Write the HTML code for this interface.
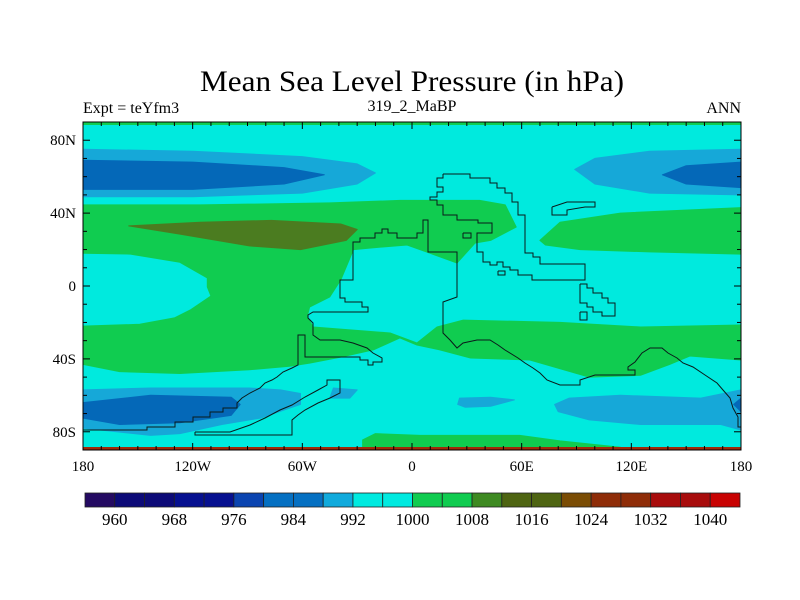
<!DOCTYPE html>
<html><head><meta charset="utf-8"><style>
html,body{margin:0;padding:0;background:#fff;}
svg{display:block;font-family:"Liberation Serif",serif;}
</style></head><body>
<svg id="chart" width="800" height="600" viewBox="0 0 800 600">
<text x="412" y="91" font-size="30" text-anchor="middle" textLength="424" lengthAdjust="spacingAndGlyphs">Mean Sea Level Pressure (in hPa)</text>
<text x="83" y="113" font-size="16">Expt = teYfm3</text>
<text x="412" y="111" font-size="16" text-anchor="middle">319_2_MaBP</text>
<text x="741" y="113" font-size="16" text-anchor="end">ANN</text>
<clipPath id="plotclip"><rect x="83" y="122" width="658" height="328"/></clipPath>
<g id="plot" clip-path="url(#plotclip)"></g>
<g id="coast" clip-path="url(#plotclip)"></g>
<g id="axes"></g>
<g id="cbar"></g>
</svg>
<script>
// ---- data ----
const cbLevels = [960,964,968,972,976,980,984,988,992,996,1000,1004,1008,1012,1016,1020,1024,1028,1032,1036,1040];
const cbColors = ["#240a62","#0c0a78","#0c0a78","#061090","#061090","#0a44b0","#0570c2","#0570c2","#10aadc","#00eae0","#00eae0","#10cc50","#10cc50","#3e8a22","#4e6412","#4e6412","#7a4c04","#8e2c08","#8e2c08","#a80c0c","#a80c0c","#c80202"];
const cbLabels = [960,968,976,984,992,1000,1008,1016,1024,1032,1040];
const lonTicks = [-180,-120,-60,0,60,120,180];
const lonLabels = ["180","120W","60W","0","60E","120E","180"];
const latTicks = [80,40,0,-40,-80];
const latLabels = ["80N","40N","0","40S","80S"];
// contour polygons, [lon,lat]
const greenMain = [[-180,44.5],[-116,44.5],[-45,45.6],[-6.6,47],[37,47],[51,44.5],[57,32.4],[43,25],[34.5,23.6],[24.6,12.6],[9.8,18],[-2.7,22.5],[-21,21],[-32,20],[-39,3.3],[-45,-6],[-56,-11.5],[-57.4,-17],[-54,-22.5],[-12,-25.8],[2.7,-31.3],[13.7,-22.5],[28,-18.7],[81,-20],[125,-22.5],[180,-21.4],[180,-40.6],[152,-38.4],[141,-43],[125,-49],[97,-50],[64.5,-40.6],[32,-39.5],[15,-35],[2.7,-32.4],[-6.6,-28.5],[-21,-35],[-39,-39],[-56,-42.3],[-67,-44],[-89,-46],[-127,-48],[-160,-47],[-180,-43],[-180,-22],[-149,-21],[-130,-17.5],[-121,-13],[-110,-5.5],[-112,-0.5],[-112,4.4],[-127,13],[-154,17.5],[-180,18]];
const greenAsia = [[70,25],[81,35],[114,40],[180,43],[180,17.5],[130,18.7],[92,20],[73,22.5]];
const greenAntarctic = [[-27,-84.5],[-20,-81],[4.4,-82],[29,-82],[59,-82],[81,-85],[114,-88.5],[-27,-88.5]];
const olive = [[-155,33],[-116,35],[-77,36],[-39,34],[-30,31],[-36,25],[-61,20],[-89,22],[-127,28.5]];
const lightNW = [[-180,75],[-120,74],[-60,71],[-30,67],[-20,62],[-30,56],[-60,51],[-120,49],[-180,49]];
const darkNW = [[-180,69],[-120,68],[-70,65],[-48,61],[-70,56],[-120,53],[-180,53]];
const lightNE = [[180,75],[130,74],[100,70],[89,64],[100,56],[130,51],[180,50]];
const darkNE = [[180,68],[150,66],[137,61],[150,56],[180,54]];
const lightSW = [[-180,-57],[-143,-56],[-89,-56],[-72,-57],[-61,-59],[-61,-65],[-83,-72.5],[-104,-76],[-127,-81],[-143,-82],[-180,-78]];
const darkSW = [[-180,-64],[-143,-60],[-99,-61],[-94,-65],[-99,-71],[-127,-75],[-160,-76],[-180,-72.5]];
const lightDrake = [[-43,-56],[-30,-57],[-34,-61.5],[-45,-61.5]];
const lightSE = [[78,-65],[86,-61.5],[114,-60],[158,-61.5],[180,-57],[180,-79],[169,-76],[125,-76],[97,-73.5],[80,-69]];
const darkSE = [[180,-61.5],[176,-65],[180,-69]];
const lightAtl = [[26,-61.5],[43,-61],[56,-62.5],[43,-66],[29,-66.5],[25,-65]];
// basemap outlines (map pixel grid)
const coastA = [[443,174],[470,174],[470,178],[490,178],[490,183],[497,183],[497,188],[505,188],[505,193],[512,193],[512,202],[518,202],[518,215],[525,215],[525,253],[533,253],[533,257],[540,257],[540,264],[585,264],[585,280],[532,280],[532,275],[518,275],[518,270],[510,270],[510,267],[503,267],[503,262],[497,262],[497,265],[490,265],[490,262],[483,262],[483,252],[477,252],[477,233],[492,233],[492,223],[478,223],[478,220],[457,220],[457,215],[443,215],[443,205],[437,205],[437,200],[430,200],[430,197],[437,197],[437,192],[443,192],[443,187],[437,187],[437,178],[443,178],[443,174]];
const coastB = [[741,427],[738,427],[738,417],[733,408],[730,398],[723,390],[717,383],[705,375],[693,367],[683,363],[677,358],[668,353],[662,348],[650,348],[642,353],[635,362],[628,367],[628,370],[635,370],[635,375],[595,375],[580,380],[580,385],[560,385],[547,380],[540,373],[533,368],[525,363],[518,358],[505,350],[498,345],[490,340],[477,340],[463,343],[457,348],[450,340],[448,338],[443,333],[443,302],[457,297],[457,252],[428,252],[428,220],[423,220],[423,233],[417,233],[417,238],[397,238],[397,233],[388,233],[388,229],[382,229],[382,233],[375,233],[375,238],[360,238],[360,242],[353,242],[353,280],[340,280],[340,298],[345,298],[345,302],[362,302],[362,307],[368,307],[368,312],[313,312],[308,315],[308,318],[313,323],[313,335],[320,340],[340,340],[353,343],[367,348],[373,353],[382,358],[382,362],[373,362],[373,365],[368,365],[368,360],[360,360],[360,357],[305,357],[305,335],[298,335],[298,365],[292,368],[283,372],[277,377],[272,380],[265,383],[260,388],[250,393],[242,398],[237,403],[237,408],[223,408],[223,412],[210,412],[210,417],[193,417],[193,422],[175,422],[175,427],[147,427],[147,430],[83,430],[83,427]];
const coastC = [[195,432],[230,432],[250,425],[265,418],[280,410],[292,405],[305,397],[318,390],[327,385],[327,380],[340,380],[340,393],[330,398],[318,403],[305,410],[298,415],[292,420],[292,435],[195,435],[195,432]];
const coastD = [[552,207],[567,202],[595,202],[595,207],[585,207],[567,210],[567,215],[552,215],[552,207]];
const coastE = [[580,284],[587,284],[587,288],[593,288],[593,293],[602,293],[602,298],[608,298],[608,303],[615,303],[615,316],[602,316],[602,312],[593,312],[593,307],[587,307],[587,303],[580,303],[580,284]];
const coastF = [[580,312],[587,312],[587,320],[580,320],[580,312]];
const coastG = [[463,233],[471,233],[471,238],[463,238],[463,233]];
const coastH = [[498,271],[505,271],[505,275],[498,275],[498,271]];

// ---- axes ----
const X0=83,X1=741,Y0=122,Y1=450;
const xS = lon => X0 + (lon+180)/360*(X1-X0);
const yS = lat => Y0 + (90-lat)/180*(Y1-Y0);
const NS="http://www.w3.org/2000/svg";
function mk(tag, attrs, parent){const e=document.createElementNS(NS,tag);for(const k in attrs)e.setAttribute(k,attrs[k]);parent.appendChild(e);return e;}
const plot=document.getElementById('plot'), coast=document.getElementById('coast'), axes=document.getElementById('axes'), cbar=document.getElementById('cbar');

const bg=mk('rect',{x:X0,y:Y0,width:X1-X0,height:Y1-Y0,fill:'#00eade'},plot);


function poly(pts,fill,name){
  const p=mk('polygon',{points:pts.map(q=>xS(q[0]).toFixed(1)+','+yS(q[1]).toFixed(1)).join(' '),fill:fill,stroke:fill,'stroke-width':1,'stroke-linejoin':'round'},plot);
  
  
}
const G="#10cc50",OL="#4b7c20",LB="#16a8d8",DB="#0468b8";
poly(greenMain,G,'contour-1004-main');
poly(greenAsia,G,'contour-1004-asia');
poly(greenAntarctic,G,'contour-1004-antarctic');
poly(olive,OL,'contour-1012-pacific-high');
poly(lightNW,LB,'contour-992-north-pacific-west');
poly(darkNW,DB,'contour-988-north-pacific-west');
poly(lightNE,LB,'contour-992-north-pacific-east');
poly(darkNE,DB,'contour-988-north-pacific-east');
poly(lightSW,LB,'contour-992-southern-west');
poly(darkSW,DB,'contour-988-southern-west');
poly(lightDrake,LB,'contour-992-drake');
poly(lightSE,LB,'contour-992-southern-east');
poly(darkSE,DB,'contour-988-southern-east');
poly(lightAtl,LB,'contour-992-atlantic');
const topStrip=mk('rect',{x:X0,y:Y0,width:X1-X0,height:3,fill:G},plot);


const botStrip=mk('rect',{x:X0,y:Y1-3,width:X1-X0,height:3,fill:'#a02a0a'},plot);



[coastA,coastB,coastC,coastD,coastE,coastF,coastG,coastH].forEach((c,i)=>{
  const l=mk('polyline',{points:c.map(q=>q.join(',')).join(' '),fill:'none',stroke:'#0a1a1a','stroke-width':1},coast);
  
  
});

// frame
const fr=mk('rect',{x:X0,y:Y0,width:X1-X0,height:Y1-Y0,fill:'none',stroke:'#000','stroke-width':1},axes);


for(let lon=-180;lon<=180;lon+=10){
  const maj=lon%60===0, L=maj?7:4, x=xS(lon);
  const t1=mk('line',{x1:x,y1:Y0,x2:x,y2:Y0+L,stroke:'#000'},axes);
  
  
  const t2=mk('line',{x1:x,y1:Y1,x2:x,y2:Y1-L,stroke:'#000'},axes);
  
  
}
for(let lat=-90;lat<=90;lat+=10){
  const maj=lat%40===0, L=maj?7:4, y=yS(lat);
  const t1=mk('line',{x1:X0,y1:y,x2:X0+L,y2:y,stroke:'#000'},axes);
  
  
  const t2=mk('line',{x1:X1,y1:y,x2:X1-L,y2:y,stroke:'#000'},axes);
  
  
}
lonTicks.forEach((v,i)=>{
  const t=mk('text',{x:xS(v),y:471,'font-size':15,'text-anchor':'middle'},axes);
  t.textContent=lonLabels[i];
  
  
});
latTicks.forEach((v,i)=>{
  const t=mk('text',{x:76,y:yS(v)+5,'font-size':15,'text-anchor':'end'},axes);
  t.textContent=latLabels[i];
  
  
});

// colorbar: boxes between levels, plus open-ended boxes at each end
const CB0=85,CB1=740,CBY=493,CBH=14,bw=(CB1-CB0)/cbColors.length;
cbColors.forEach((c,i)=>{
  const r=mk('rect',{x:CB0+i*bw,y:CBY,width:bw,height:CBH,fill:c,stroke:'#222','stroke-width':0.8},cbar);
  
  
});
cbLabels.forEach(v=>{
  const idx=cbLevels.indexOf(v);
  const t=mk('text',{x:CB0+(idx+1)*bw,y:525,'font-size':17,'text-anchor':'middle'},cbar);
  t.textContent=v;
  
  
});
</script>
</body></html>
